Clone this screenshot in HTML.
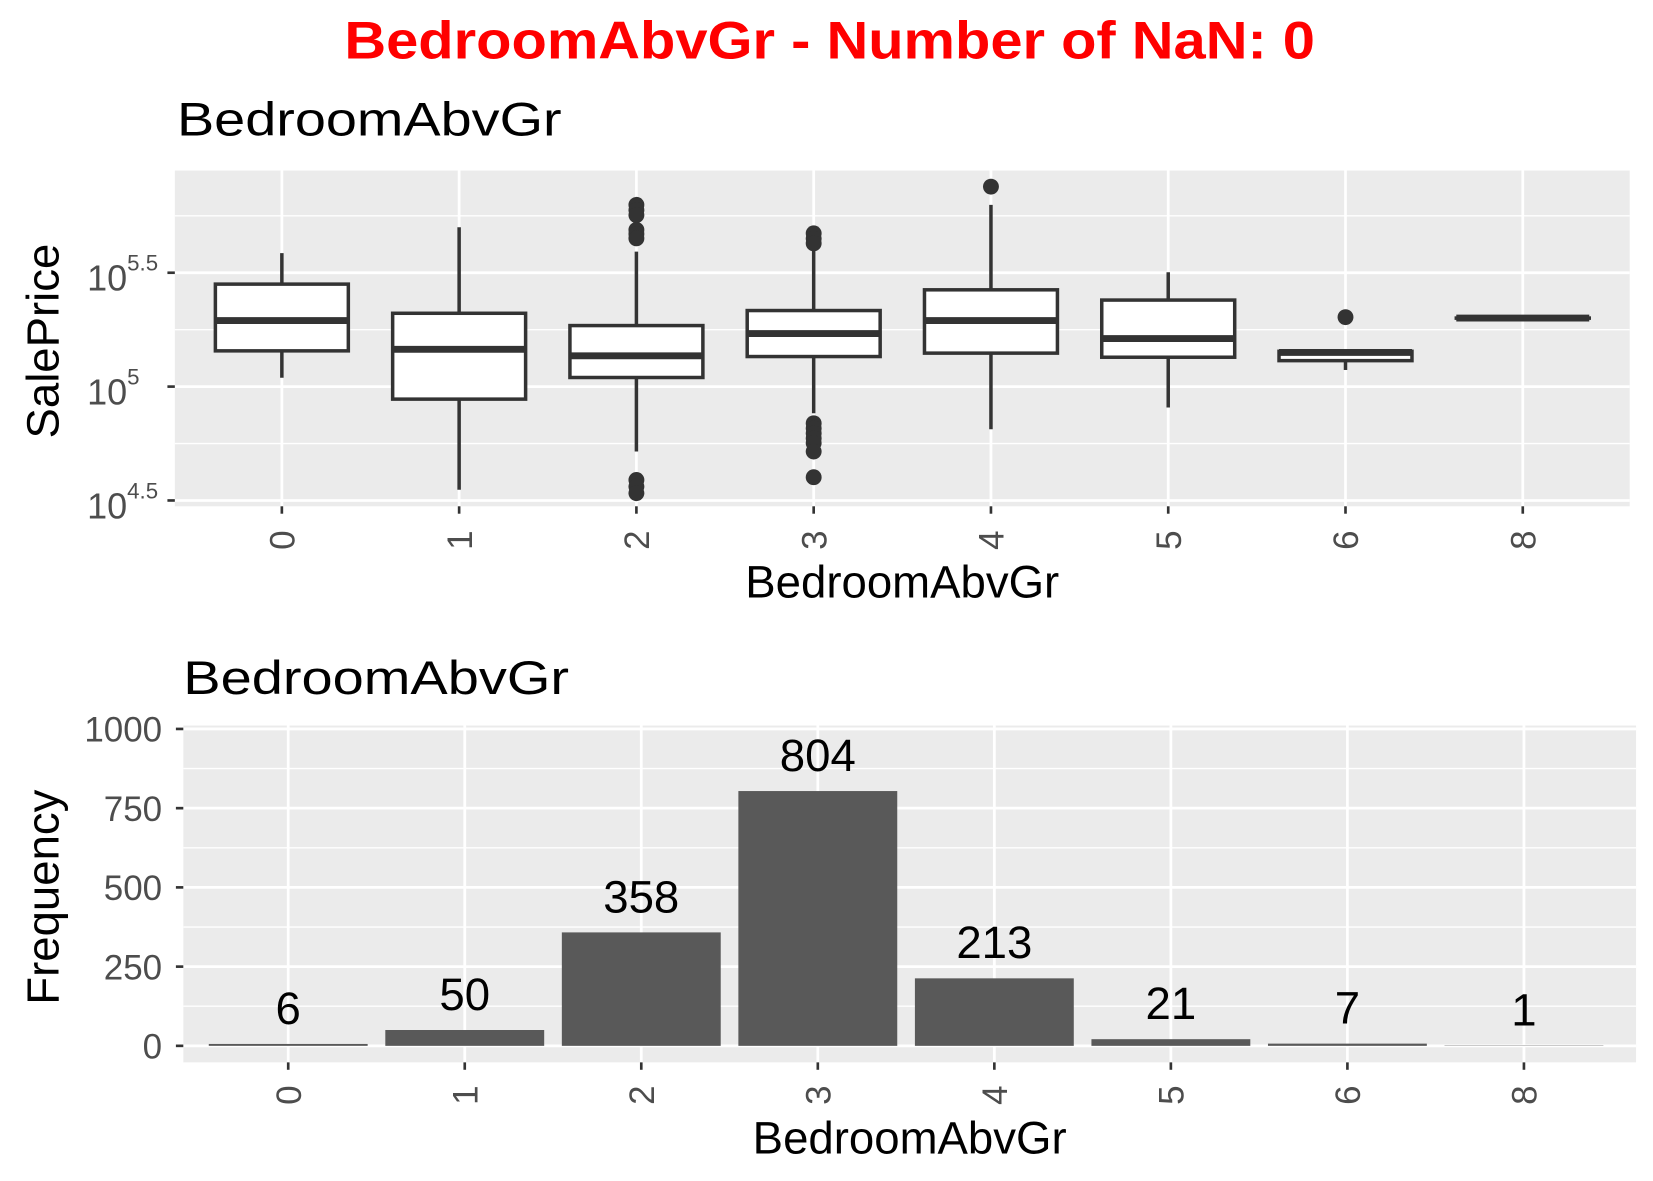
<!DOCTYPE html>
<html><head><meta charset="utf-8"><style>
html,body{margin:0;padding:0;background:#fff;}
svg{display:block;font-family:"Liberation Sans",Arial,sans-serif;}
</style></head><body>
<svg id="chart" width="1653" height="1181" viewBox="0 0 1560 1115" preserveAspectRatio="none">
<text x="783" y="55" text-anchor="middle" font-weight="bold" font-size="50" fill="#ff0000" textLength="916" lengthAdjust="spacingAndGlyphs">BedroomAbvGr - Number of NaN: 0</text>
<text x="167" y="128" font-size="45" fill="#000" textLength="363" lengthAdjust="spacingAndGlyphs">BedroomAbvGr</text>
<text x="173" y="655" font-size="45" fill="#000" textLength="364" lengthAdjust="spacingAndGlyphs">BedroomAbvGr</text>
<g id="box"></g>
<g id="bar"></g>
</svg>
<script>
const categories = ["0","1","2","3","4","5","6","8"];
// box stats in log10(SalePrice)
const boxLo  = [5.039,4.547,4.715,4.883,4.813,4.908,5.073,5.301];
const boxQ1  = [5.157,4.945,5.040,5.132,5.147,5.129,5.114,5.301];
const boxMed = [5.290,5.164,5.135,5.233,5.290,5.211,5.150,5.301];
const boxQ3  = [5.450,5.322,5.268,5.334,5.425,5.380,5.155,5.301];
const boxHi  = [5.586,5.700,5.593,5.600,5.798,5.502,5.155,5.301];
const outliers = [[],[],[5.798,5.775,5.753,5.688,5.670,5.651,4.590,4.561,4.532],[5.673,5.650,5.629,4.839,4.817,4.795,4.773,4.752,4.715,4.602],[5.878],[],[5.305],[]];
const boxTicks = [4.5,5,5.5];
const boxTickLabels = ["4.5","5","5.5"];
const counts = [6,50,358,804,213,21,7,1];
const barTicks = [0,250,500,750,1000];
const barTickLabels = ["0","250","500","750","1000"];

const NS="http://www.w3.org/2000/svg";
function mk(tag,attrs,parent){const e=document.createElementNS(NS,tag);for(const k in attrs)e.setAttribute(k,attrs[k]);parent.appendChild(e);return e;}

// ---- Box plot ----
(function(){
  const g=document.getElementById('box');
  const L=165,R=1538,T=161,B=478;
  const step=167.3, x0=266;
  const xs=i=>x0+i*step;
  const ys=v=>365-(v-5)*215;
  const bg=mk('rect',{x:L,y:T,width:R-L,height:B-T,fill:'#ebebeb'},g);
  
  
  [4.75,5.25,5.75].forEach(v=>{const l=mk('line',{x1:L,x2:R,y1:ys(v),y2:ys(v),stroke:'#fff','stroke-width':1.3},g);
    });
  boxTicks.forEach((v,i)=>{
    const l=mk('line',{x1:L,x2:R,y1:ys(v),y2:ys(v),stroke:'#fff','stroke-width':2.6},g);
    
    const tk=mk('line',{x1:L-7,x2:L,y1:ys(v),y2:ys(v),stroke:'#333','stroke-width':2.5},g);
    
    const t=mk('text',{x:L-45,y:ys(v)+17,'text-anchor':'end','font-size':34,fill:'#4d4d4d'},g);
    
    t.textContent='10';
    const s=mk('text',{x:L-45,y:ys(v)-2,'font-size':21,fill:'#4d4d4d'},g);
    
    s.textContent=boxTickLabels[i];
  });
  categories.forEach((c,i)=>{
    const x=xs(i);
    const l=mk('line',{x1:x,x2:x,y1:T,y2:B,stroke:'#fff','stroke-width':2.6},g);
    
    const tk=mk('line',{x1:x,x2:x,y1:B,y2:B+7,stroke:'#333','stroke-width':2.5},g);
    
    const t=mk('text',{x:0,y:0,'text-anchor':'middle','font-size':33,fill:'#4d4d4d',transform:`translate(${x+12},510) rotate(-90)`},g);
    
    t.textContent=c;
    const w=step*0.75/2;
    const wh=mk('line',{x1:x,x2:x,y1:ys(boxHi[i]),y2:ys(boxLo[i]),stroke:'#333','stroke-width':3.3},g);
    
    const r=mk('rect',{x:x-w,y:ys(boxQ3[i]),width:2*w,height:Math.max(ys(boxQ1[i])-ys(boxQ3[i]),0.1),fill:'#fff',stroke:'#333','stroke-width':3.3},g);
    
    const m=mk('line',{x1:x-w,x2:x+w,y1:ys(boxMed[i]),y2:ys(boxMed[i]),stroke:'#333','stroke-width':6.5},g);
    
    outliers[i].forEach(v=>{
      const o=mk('circle',{cx:x,cy:ys(v),r:7.5,fill:'#333'},g);
      
    });
  });
  const xt=mk('text',{x:(L+R)/2,y:564,'text-anchor':'middle','font-size':43,fill:'#000'},g);
  
  xt.textContent='BedroomAbvGr';
  const yt=mk('text',{x:0,y:0,'text-anchor':'middle','font-size':43,fill:'#000',transform:`translate(55,322) rotate(-90)`},g);
  
  yt.textContent='SalePrice';
})();

// ---- Bar plot ----
(function(){
  const g=document.getElementById('bar');
  const L=173,R=1544,T=685,B=1003;
  const step=166.6, x0=272;
  const xs=i=>x0+i*step;
  const ys=v=>987.4-v*0.2992;
  const bg=mk('rect',{x:L,y:T,width:R-L,height:B-T,fill:'#ebebeb'},g);
  
  [125,375,625,875].forEach(v=>{const l=mk('line',{x1:L,x2:R,y1:ys(v),y2:ys(v),stroke:'#fff','stroke-width':1.3},g);
    });
  barTicks.forEach((v,i)=>{
    const l=mk('line',{x1:L,x2:R,y1:ys(v),y2:ys(v),stroke:'#fff','stroke-width':2.6},g);
    
    const tk=mk('line',{x1:L-7,x2:L,y1:ys(v),y2:ys(v),stroke:'#333','stroke-width':2.5},g);
    
    const t=mk('text',{x:L-20,y:ys(v)+12,'text-anchor':'end','font-size':33,fill:'#4d4d4d'},g);
    
    t.textContent=barTickLabels[i];
  });
  categories.forEach((c,i)=>{
    const x=xs(i);
    const l=mk('line',{x1:x,x2:x,y1:T,y2:B,stroke:'#fff','stroke-width':2.6},g);
    
    const tk=mk('line',{x1:x,x2:x,y1:B,y2:B+7,stroke:'#333','stroke-width':2.5},g);
    
    const t=mk('text',{x:0,y:0,'text-anchor':'middle','font-size':33,fill:'#4d4d4d',transform:`translate(${x+12},1034) rotate(-90)`},g);
    
    t.textContent=c;
    const w=step*0.9/2;
    const b=mk('rect',{x:x-w,y:ys(counts[i]),width:2*w,height:ys(0)-ys(counts[i]),fill:'#595959'},g);
    
    const lb=mk('text',{x:x,y:ys(counts[i])-19,'text-anchor':'middle','font-size':43,fill:'#000'},g);
    
    lb.textContent=counts[i];
  });
  const xt=mk('text',{x:(L+R)/2,y:1089,'text-anchor':'middle','font-size':43,fill:'#000'},g);
  
  xt.textContent='BedroomAbvGr';
  const yt=mk('text',{x:0,y:0,'text-anchor':'middle','font-size':43,fill:'#000',transform:`translate(55,847) rotate(-90)`},g);
  
  yt.textContent='Frequency';
})();
</script>
</body></html>
